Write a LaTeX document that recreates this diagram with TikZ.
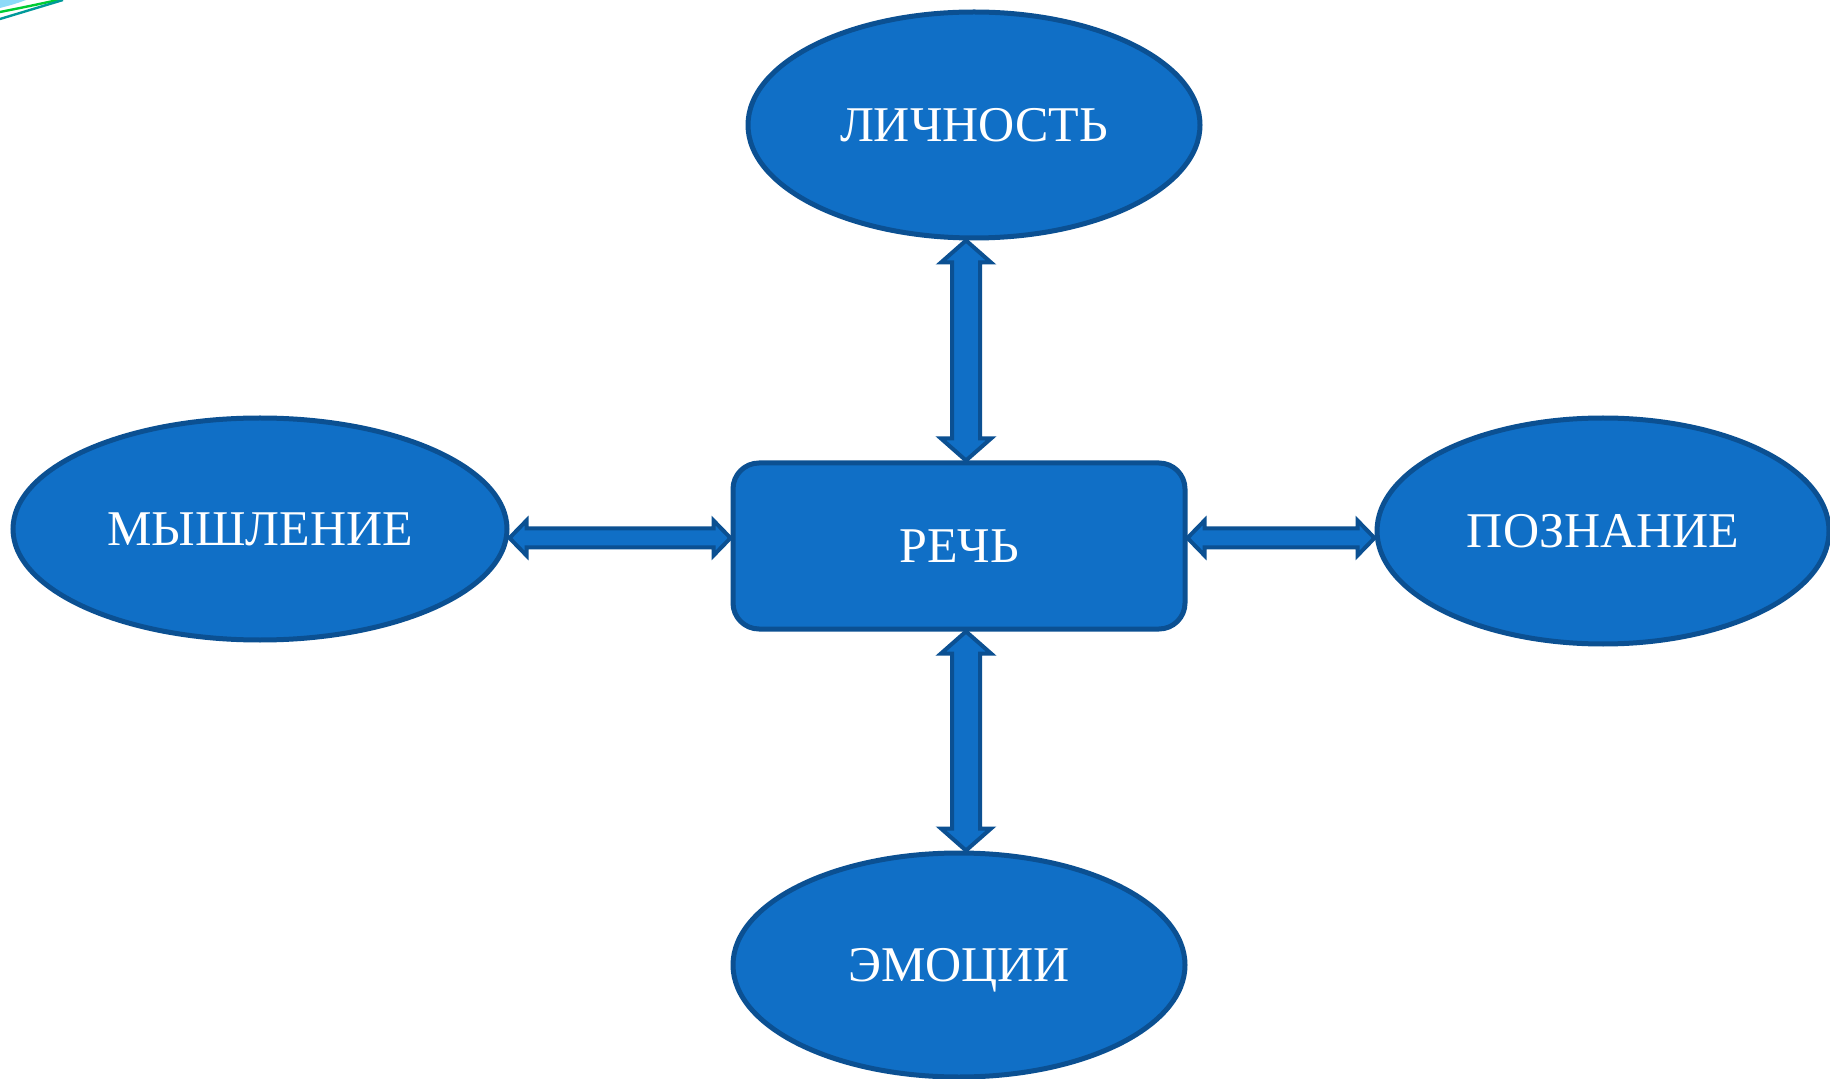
\documentclass[tikz,border=0pt]{standalone}
\usepackage{fontspec}
\setmainfont{Liberation Serif}
\usetikzlibrary{shapes.geometric,calc}
\definecolor{fillblue}{RGB}{16,111,198}
\definecolor{edgeblue}{RGB}{11,80,146}
\tikzset{
  oval/.style={ellipse,draw=edgeblue,line width=2.5pt,fill=fillblue,inner sep=0pt,
    minimum width=226pt,minimum height=113pt,text=white,text height=16.5pt,text depth=0pt,
    font=\fontsize{25}{30}\selectfont},
  rbox/.style={rectangle,rounded corners=13pt,draw=edgeblue,line width=2.5pt,fill=fillblue,
    minimum width=226pt,minimum height=83pt,text=white,text height=16.5pt,text depth=0pt,
    font=\fontsize{25}{30}\selectfont},
  fatarrow/.style n args={3}{draw=edgeblue,line width=2pt,fill=fillblue,line join=miter,
    to path={(\tikztostart)
      -- ($(\tikztostart)!#1!(\tikztotarget)!#2!90:(\tikztotarget)$)
      -- ($(\tikztostart)!#1!(\tikztotarget)!#3!90:(\tikztotarget)$)
      -- ($(\tikztotarget)!#1!(\tikztostart)!#3!-90:(\tikztostart)$)
      -- ($(\tikztotarget)!#1!(\tikztostart)!#2!-90:(\tikztostart)$)
      -- (\tikztotarget)
      -- ($(\tikztotarget)!#1!(\tikztostart)!#2!90:(\tikztostart)$)
      -- ($(\tikztotarget)!#1!(\tikztostart)!#3!90:(\tikztostart)$)
      -- ($(\tikztostart)!#1!(\tikztotarget)!#3!-90:(\tikztotarget)$)
      -- ($(\tikztostart)!#1!(\tikztotarget)!#2!-90:(\tikztotarget)$)
      -- cycle}}
}
\begin{document}
\begin{tikzpicture}[x=0.5pt,y=-0.5pt]
\useasboundingbox[fill=white] (0,0) rectangle (1830,1079);
% corner swoosh
\fill[cyan!45] (0,0) -- (26,0) .. controls (15,4) .. (0,8) -- cycle;
\draw[green!60!teal,line width=1.2pt] (0,12) .. controls (30,6) .. (58,0);
\draw[teal!80!cyan,line width=1.2pt] (0,19) .. controls (32,10) .. (63,0);
% nodes
\node[oval] (lich) at (974,125) {ЛИЧНОСТЬ};
\node[oval,minimum width=247pt,minimum height=111pt] (mysh) at (260,529) {МЫШЛЕНИЕ};
\node[oval] (pozn) at (1603,531) {ПОЗНАНИЕ};
\node[oval,minimum height=112pt] (emo) at (959,965) {ЭМОЦИИ};
\node[rbox] (rech) at (959,546) {РЕЧЬ};
% arrows
\draw[fatarrow={11pt}{12.5pt}{7pt}] ([xshift=3.5pt]rech.north) to ([xshift=3.5pt]rech.north |- lich.south);
\draw[fatarrow={11pt}{12.5pt}{7pt}] ([xshift=3.5pt]rech.south) to ([xshift=3.5pt]rech.south |- emo.north);
\draw[fatarrow={8.5pt}{8.75pt}{4.75pt}] ([yshift=4pt]rech.west) to ([yshift=4pt]rech.west -| mysh.east);
\draw[fatarrow={8.5pt}{8.75pt}{4.75pt}] ([yshift=4pt]rech.east) to ([yshift=4pt]rech.east -| pozn.west);
\end{tikzpicture}
\end{document}
